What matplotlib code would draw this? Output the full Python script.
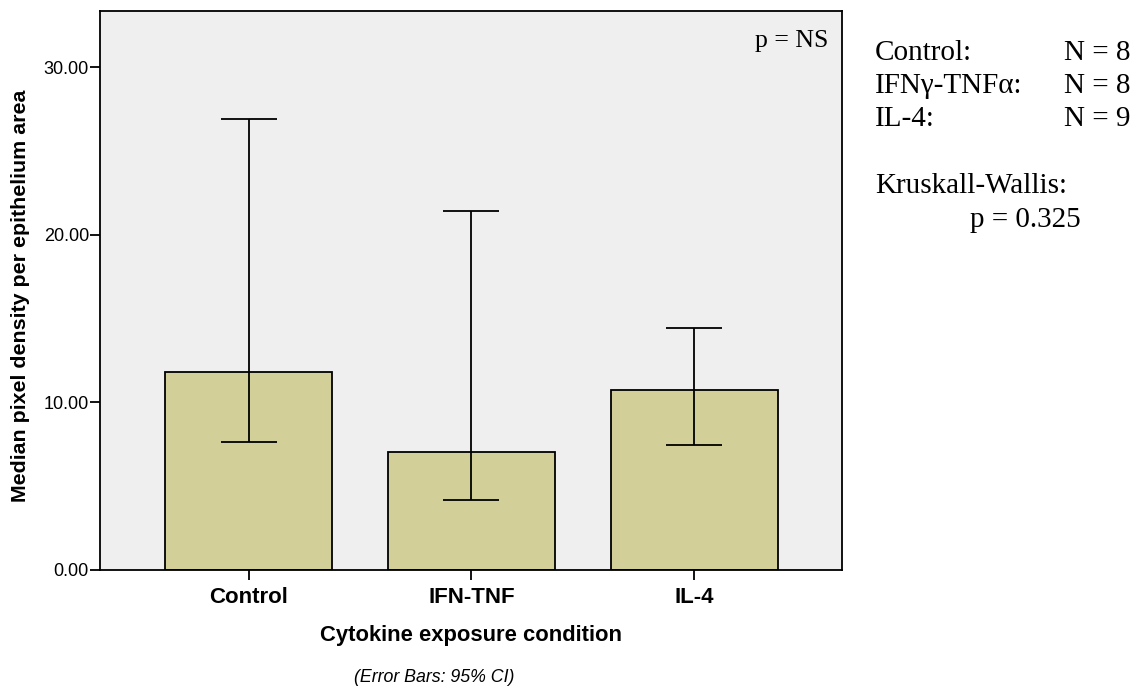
import matplotlib.pyplot as plt

# median pixel density by cytokine condition, with 95% CI bars
conditions = ["Control", "IFN-TNF", "IL-4"]
medians = [11.83, 7.02, 10.74]
ci_low = [7.66, 4.18, 7.48]
ci_high = [26.9, 21.42, 14.41]

counts_labels = ["Control:", "IFN\u03b3-TNF\u03b1:", "IL-4:"]
counts = [8, 8, 9]

fig = plt.figure(figsize=(11.4, 6.89), dpi=100)
ax = fig.add_axes([100 / 1140, 1 - 570 / 689, 742 / 1140, 559 / 689])

x = range(len(conditions))
err_lo = [m - l for m, l in zip(medians, ci_low)]
err_hi = [h - m for m, h in zip(medians, ci_high)]

ax.set_facecolor("#efefef")
ax.bar(x, medians, width=0.75, color="#d3cf98", edgecolor="black", linewidth=1.3, zorder=2)
ax.errorbar(x, medians, yerr=[err_lo, err_hi], fmt="none", ecolor="black",
            elinewidth=1.3, capsize=20, capthick=1.3, zorder=3)

ax.set_xlim(-0.667, 2.664)
ax.set_ylim(0, 33.34)
ax.set_yticks([0, 10, 20, 30])
ax.set_yticklabels(["%.2f" % v for v in [0, 10, 20, 30]], fontsize=13, family="Liberation Sans")
ax.set_xticks(list(x))
ax.set_xticklabels(conditions, fontsize=16, fontweight="bold", family="Liberation Sans")
ax.tick_params(axis="both", direction="out", length=7, width=1.3, color="black")
ax.tick_params(axis="x", pad=5)
ax.tick_params(axis="y", pad=1)
for s in ax.spines.values():
    s.set_linewidth(1.3)

ax.set_xlabel("Cytokine exposure condition", fontsize=15.8, fontweight="bold",
              family="Liberation Sans")
ax.xaxis.set_label_coords((471 - 100) / 742, (570 - 625) / 559)
ax.set_ylabel("Median pixel density per epithelium area", fontsize=15.4, fontweight="bold",
              family="Liberation Sans")
ax.yaxis.set_label_coords((30 - 100) / 742, (570 - 296) / 559)

fig.text(828 / 1140, 1 - 47 / 689, "p = NS", ha="right", va="baseline",
         fontsize=18.5, family="Liberation Serif")

fig.text(434 / 1140, 1 - 678 / 689, "(Error Bars: 95% CI)", ha="center", va="center",
         fontsize=12.8, style="italic", family="Liberation Sans")

# sample sizes and test result on the right
for i, (lab, n) in enumerate(zip(counts_labels, counts)):
    yy = 1 - (60 + 33 * i) / 689
    fig.text(875 / 1140, yy, lab, ha="left", va="baseline", fontsize=21,
             family="Liberation Serif")
    fig.text(1064 / 1140, yy, "N = %d" % n, ha="left", va="baseline", fontsize=21,
             family="Liberation Serif")
fig.text(875 / 1140, 1 - 193 / 689, "Kruskall-Wallis:", ha="left", va="baseline",
         fontsize=21, family="Liberation Serif")
fig.text(970 / 1140, 1 - 227 / 689, "p = 0.325", ha="left", va="baseline",
         fontsize=21, family="Liberation Serif")

fig.savefig("out.png", dpi=100)
